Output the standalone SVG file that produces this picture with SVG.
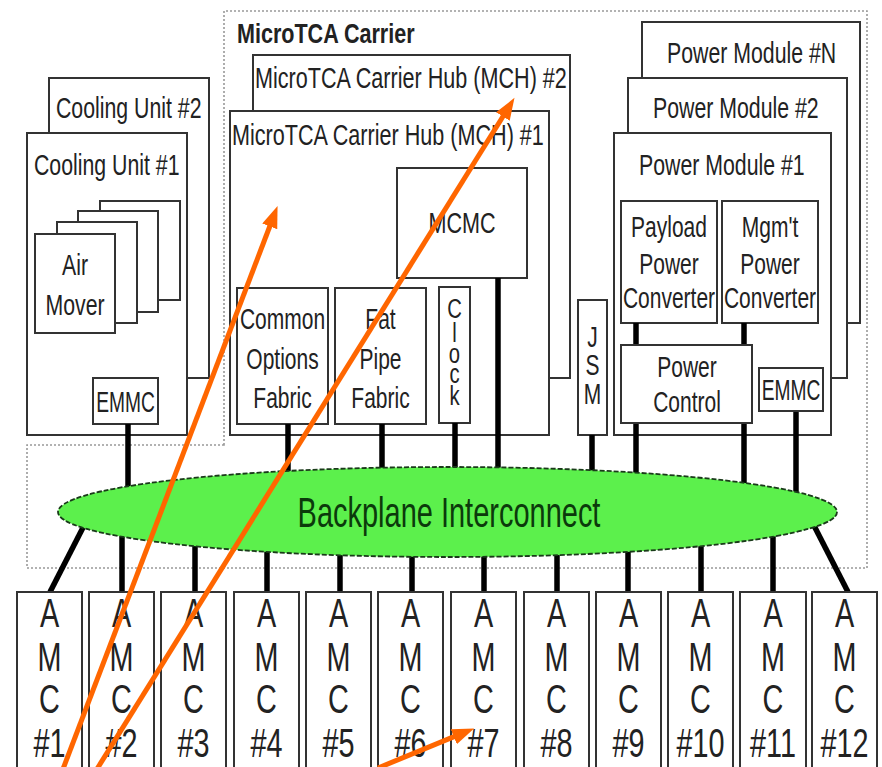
<svg xmlns="http://www.w3.org/2000/svg" width="882" height="767" viewBox="0 0 882 767">
<defs>
<style>
.b{fill:#fff;stroke:#333;stroke-width:2}
.t{font-family:"Liberation Sans",Arial,sans-serif;font-size:30px;fill:#222}
.c{text-anchor:middle}
.big{font-size:40px}
.s{font-size:27px}
.w{stroke:#000;stroke-width:5.5;fill:none}
.d{fill:none;stroke:#999;stroke-width:1.6;stroke-dasharray:2 2}
.o{stroke:#ff6600;stroke-width:5;fill:none;marker-end:url(#ah)}
</style>
<marker id="ah" markerUnits="userSpaceOnUse" markerWidth="26" markerHeight="18" refX="1" refY="8" orient="auto">
<path d="M0,0 L22,8 L0,16 Z" fill="#ff6600"/>
</marker>
</defs>
<rect width="882" height="767" fill="#fff"/>

<g id="carrier">
<path class="d" d="M224,445 L224,11 L867,11 L867,568 L27,568 L27,445 Z"/>
<text class="t" font-weight="bold" transform="translate(237 43) scale(.77 1)" style="font-size:28px">MicroTCA Carrier</text>
</g>

<g id="cooling2">
<rect class="b" x="49" y="78" width="160" height="300"/>
<text class="t" transform="translate(56 118) scale(.71 1)">Cooling Unit #2</text>
</g>
<g id="cooling1">
<rect class="b" x="27" y="133" width="160" height="302"/>
<text class="t" transform="translate(34 175) scale(.71 1)">Cooling Unit #1</text>
</g>
<g id="airmover">
<rect class="b" x="100" y="201" width="80" height="99"/>
<rect class="b" x="78" y="211" width="80" height="101"/>
<rect class="b" x="57" y="222" width="80" height="101"/>
<rect class="b" x="35" y="234" width="80" height="99"/>
<text class="t c" transform="translate(75 275) scale(.71 1)">Air</text>
<text class="t c" transform="translate(75 315) scale(.71 1)">Mover</text>
</g>
<g id="emmc-cooling">
<rect class="b" x="93" y="378" width="65" height="46"/>
<text class="t c" transform="translate(125.5 412) scale(.64 1)">EMMC</text>
</g>

<g id="mch2">
<rect class="b" x="253" y="55" width="317" height="323"/>
<text class="t" transform="translate(255 88) scale(.72 1)">MicroTCA Carrier Hub (MCH) #2</text>
</g>
<g id="mch1">
<rect class="b" x="230" y="111" width="319" height="324"/>
<text class="t" transform="translate(232 145) scale(.72 1)">MicroTCA Carrier Hub (MCH) #1</text>
</g>
<g id="mcmc">
<rect class="b" x="397" y="168" width="130" height="110"/>
<text class="t c" transform="translate(462 233) scale(.72 1)">MCMC</text>
</g>
<g id="common-options">
<rect class="b" x="237" y="288" width="91" height="136"/>
<text class="t c" transform="translate(282.5 329) scale(.7 1)">Common</text>
<text class="t c" transform="translate(282.5 369) scale(.7 1)">Options</text>
<text class="t c" transform="translate(282.5 408) scale(.7 1)">Fabric</text>
</g>
<g id="fat-pipe">
<rect class="b" x="335" y="288" width="91" height="136"/>
<text class="t c" transform="translate(380.5 329) scale(.7 1)">Fat</text>
<text class="t c" transform="translate(380.5 369) scale(.7 1)">Pipe</text>
<text class="t c" transform="translate(380.5 408) scale(.7 1)">Fabric</text>
</g>
<g id="clock">
<rect class="b" x="439" y="287" width="31" height="136"/>
<text class="t c s" transform="translate(454.5 318) scale(.75 1)">C</text>
<text class="t c s" transform="translate(454.5 342) scale(.75 1)">l</text>
<text class="t c s" transform="translate(454.5 363) scale(.75 1)">o</text>
<text class="t c s" transform="translate(454.5 383) scale(.75 1)">c</text>
<text class="t c s" transform="translate(454.5 405) scale(.75 1)">k</text>
</g>
<g id="jsm">
<rect class="b" x="578" y="300" width="29" height="135"/>
<text class="t c" transform="translate(592.5 347) scale(.7 1)">J</text>
<text class="t c" transform="translate(592.5 375) scale(.7 1)">S</text>
<text class="t c" transform="translate(592.5 404) scale(.7 1)">M</text>
</g>

<g id="pmN">
<rect class="b" x="642" y="22" width="218" height="301"/>
<text class="t" transform="translate(667 63) scale(.71 1)">Power Module #N</text>
</g>
<g id="pm2">
<rect class="b" x="628" y="78" width="219" height="300"/>
<text class="t" transform="translate(653 118) scale(.71 1)">Power Module #2</text>
</g>
<g id="pm1">
<rect class="b" x="614" y="133" width="217" height="302"/>
<text class="t" transform="translate(639 175) scale(.71 1)">Power Module #1</text>
</g>
<g id="payload-conv">
<rect class="b" x="621" y="201" width="96" height="122"/>
<text class="t c" transform="translate(669 237) scale(.7 1)">Payload</text>
<text class="t c" transform="translate(669 274) scale(.7 1)">Power</text>
<text class="t c" transform="translate(669 308) scale(.7 1)">Converter</text>
</g>
<g id="mgmt-conv">
<rect class="b" x="722" y="201" width="96" height="122"/>
<text class="t c" transform="translate(770 237) scale(.7 1)">Mgm't</text>
<text class="t c" transform="translate(770 274) scale(.7 1)">Power</text>
<text class="t c" transform="translate(770 308) scale(.7 1)">Converter</text>
</g>

<g id="connectors">
<line class="w" x1="636" y1="323" x2="636" y2="345"/>
<line class="w" x1="744" y1="323" x2="744" y2="345"/>
<line class="w" x1="128" y1="424" x2="128" y2="512"/>
<line class="w" x1="288" y1="424" x2="288" y2="512"/>
<line class="w" x1="382" y1="424" x2="382" y2="512"/>
<line class="w" x1="455" y1="423" x2="455" y2="512"/>
<line class="w" x1="498" y1="278" x2="498" y2="512"/>
<line class="w" x1="592" y1="435" x2="592" y2="512"/>
<line class="w" x1="636" y1="423" x2="636" y2="512"/>
<line class="w" x1="744" y1="423" x2="744" y2="512"/>
<line class="w" x1="796" y1="411" x2="796" y2="512"/>
<line class="w" x1="50" y1="592" x2="92" y2="510"/>
<line class="w" x1="122" y1="512" x2="122" y2="592"/>
<line class="w" x1="195" y1="512" x2="195" y2="592"/>
<line class="w" x1="267" y1="512" x2="267" y2="592"/>
<line class="w" x1="340" y1="512" x2="340" y2="592"/>
<line class="w" x1="412" y1="512" x2="412" y2="592"/>
<line class="w" x1="484" y1="512" x2="484" y2="592"/>
<line class="w" x1="557" y1="512" x2="557" y2="592"/>
<line class="w" x1="628" y1="512" x2="628" y2="592"/>
<line class="w" x1="701" y1="512" x2="701" y2="592"/>
<line class="w" x1="773" y1="512" x2="773" y2="592"/>
<line class="w" x1="848" y1="592" x2="806" y2="510"/>
</g>

<g id="power-control">
<rect class="b" x="621" y="345" width="131" height="78"/>
<text class="t c" transform="translate(687 377) scale(.7 1)">Power</text>
<text class="t c" transform="translate(687 412) scale(.7 1)">Control</text>
</g>
<g id="emmc-power">
<rect class="b" x="759" y="368" width="64" height="43"/>
<text class="t c" transform="translate(791 400) scale(.64 1)">EMMC</text>
</g>

<g id="backplane">
<ellipse cx="447.5" cy="512" rx="389.5" ry="45" fill="#5cf04c" stroke="#1a3a1a" stroke-width="1.8" stroke-dasharray="5 2"/>
<text class="t c" transform="translate(449 527) scale(.69 1)" style="font-size:42px;fill:#0b3a0b">Backplane Interconnect</text>
</g>

<g id="amc1"><rect class="b" x="17" y="592" width="65" height="180"/><text class="t c big" transform="translate(49.5 627) scale(.72 1)">A</text><text class="t c big" transform="translate(49.5 671) scale(.72 1)">M</text><text class="t c big" transform="translate(49.5 713) scale(.72 1)">C</text><text class="t c big" transform="translate(49.5 757) scale(.72 1)">#1</text></g>
<g id="amc2"><rect class="b" x="89" y="592" width="65" height="180"/><text class="t c big" transform="translate(121.5 627) scale(.72 1)">A</text><text class="t c big" transform="translate(121.5 671) scale(.72 1)">M</text><text class="t c big" transform="translate(121.5 713) scale(.72 1)">C</text><text class="t c big" transform="translate(121.5 757) scale(.72 1)">#2</text></g>
<g id="amc3"><rect class="b" x="161" y="592" width="65" height="180"/><text class="t c big" transform="translate(193.5 627) scale(.72 1)">A</text><text class="t c big" transform="translate(193.5 671) scale(.72 1)">M</text><text class="t c big" transform="translate(193.5 713) scale(.72 1)">C</text><text class="t c big" transform="translate(193.5 757) scale(.72 1)">#3</text></g>
<g id="amc4"><rect class="b" x="234" y="592" width="65" height="180"/><text class="t c big" transform="translate(266.5 627) scale(.72 1)">A</text><text class="t c big" transform="translate(266.5 671) scale(.72 1)">M</text><text class="t c big" transform="translate(266.5 713) scale(.72 1)">C</text><text class="t c big" transform="translate(266.5 757) scale(.72 1)">#4</text></g>
<g id="amc5"><rect class="b" x="306" y="592" width="65" height="180"/><text class="t c big" transform="translate(338.5 627) scale(.72 1)">A</text><text class="t c big" transform="translate(338.5 671) scale(.72 1)">M</text><text class="t c big" transform="translate(338.5 713) scale(.72 1)">C</text><text class="t c big" transform="translate(338.5 757) scale(.72 1)">#5</text></g>
<g id="amc6"><rect class="b" x="378" y="592" width="65" height="180"/><text class="t c big" transform="translate(410.5 627) scale(.72 1)">A</text><text class="t c big" transform="translate(410.5 671) scale(.72 1)">M</text><text class="t c big" transform="translate(410.5 713) scale(.72 1)">C</text><text class="t c big" transform="translate(410.5 757) scale(.72 1)">#6</text></g>
<g id="amc7"><rect class="b" x="451" y="592" width="65" height="180"/><text class="t c big" transform="translate(483.5 627) scale(.72 1)">A</text><text class="t c big" transform="translate(483.5 671) scale(.72 1)">M</text><text class="t c big" transform="translate(483.5 713) scale(.72 1)">C</text><text class="t c big" transform="translate(483.5 757) scale(.72 1)">#7</text></g>
<g id="amc8"><rect class="b" x="524" y="592" width="65" height="180"/><text class="t c big" transform="translate(556.5 627) scale(.72 1)">A</text><text class="t c big" transform="translate(556.5 671) scale(.72 1)">M</text><text class="t c big" transform="translate(556.5 713) scale(.72 1)">C</text><text class="t c big" transform="translate(556.5 757) scale(.72 1)">#8</text></g>
<g id="amc9"><rect class="b" x="596" y="592" width="65" height="180"/><text class="t c big" transform="translate(628.5 627) scale(.72 1)">A</text><text class="t c big" transform="translate(628.5 671) scale(.72 1)">M</text><text class="t c big" transform="translate(628.5 713) scale(.72 1)">C</text><text class="t c big" transform="translate(628.5 757) scale(.72 1)">#9</text></g>
<g id="amc10"><rect class="b" x="668" y="592" width="65" height="180"/><text class="t c big" transform="translate(700.5 627) scale(.72 1)">A</text><text class="t c big" transform="translate(700.5 671) scale(.72 1)">M</text><text class="t c big" transform="translate(700.5 713) scale(.72 1)">C</text><text class="t c big" transform="translate(700.5 757) scale(.72 1)">#10</text></g>
<g id="amc11"><rect class="b" x="740" y="592" width="66" height="180"/><text class="t c big" transform="translate(773 627) scale(.72 1)">A</text><text class="t c big" transform="translate(773 671) scale(.72 1)">M</text><text class="t c big" transform="translate(773 713) scale(.72 1)">C</text><text class="t c big" transform="translate(773 757) scale(.72 1)">#11</text></g>
<g id="amc12"><rect class="b" x="812" y="592" width="65" height="180"/><text class="t c big" transform="translate(844.5 627) scale(.72 1)">A</text><text class="t c big" transform="translate(844.5 671) scale(.72 1)">M</text><text class="t c big" transform="translate(844.5 713) scale(.72 1)">C</text><text class="t c big" transform="translate(844.5 757) scale(.72 1)">#12</text></g>

<g id="annotation-arrows">
<line class="o" x1="63" y1="769" x2="270.1" y2="225.5"/>
<line class="o" x1="97" y1="769" x2="503.4" y2="115.7"/>
<line class="o" x1="378" y1="768" x2="454.7" y2="736.4"/>
</g>
</svg>
